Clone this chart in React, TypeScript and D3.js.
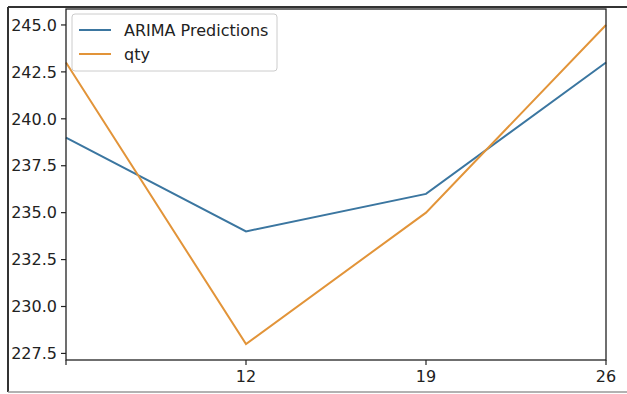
import React from "react";
import * as d3 from "d3";

// Weekly index (day of month) and the two series
const days = [5, 12, 19, 26];
const arimaPredictions = [239, 234, 236, 243];
const qty = [243, 228, 235, 245];
const xTickValues = [5, 12, 19, 26];
const xTickLabels = ["", "12", "19", "26"];
const yTicks = [227.5, 230.0, 232.5, 235.0, 237.5, 240.0, 242.5, 245.0];
const seriesNames = ["ARIMA Predictions", "qty"];

const W = 627;
const H = 394;
const plot = { left: 66, right: 606, top: 9, bottom: 360 };
const font = "'DejaVu Sans', sans-serif";
const colors = ["#3b76a0", "#e29439"];

export default function App() {
  const allVals = [...arimaPredictions, ...qty];
  const lo = d3.min(allVals)!;
  const hi = d3.max(allVals)!;
  const pad = (hi - lo) * 0.05;

  const x = d3.scaleLinear().domain([d3.min(days)!, d3.max(days)!]).range([plot.left, plot.right]);
  const y = d3.scaleLinear().domain([lo - pad, hi + pad]).range([plot.bottom, plot.top]);

  const line = d3
    .line<number>()
    .x((_, i) => x(days[i]))
    .y((d) => y(d));

  const series = [arimaPredictions, qty];

  return (
    <svg
      width={W}
      height={H}
      style={{ position: "absolute", left: 0, top: 0, background: "#fff" }}
      fontFamily={font}
    >
      {/* outer frame */}
      <line x1={8} y1={7} x2={W} y2={7} stroke="#333" strokeWidth={2} />
      <line x1={8} y1={7} x2={8} y2={H - 2} stroke="#333" strokeWidth={2} />
      <line x1={8} y1={H - 2} x2={W} y2={H - 2} stroke="#999" strokeWidth={1.5} />

      {/* series */}
      {series.map((s, i) => (
        <path key={i} d={line(s) || ""} fill="none" stroke={colors[i]} strokeWidth={2} />
      ))}

      {/* axes box */}
      <rect
        x={plot.left}
        y={plot.top}
        width={plot.right - plot.left}
        height={plot.bottom - plot.top}
        fill="none"
        stroke="#222"
        strokeWidth={1.3}
      />

      {/* y ticks */}
      {yTicks.map((t) => (
        <g key={t}>
          <line x1={plot.left - 5} x2={plot.left} y1={y(t)} y2={y(t)} stroke="#222" strokeWidth={1.2} />
          <text
            x={plot.left - 9}
            y={y(t)}
            dy="0.36em"
            textAnchor="end"
            fontSize={16}
            fill="#222"
          >
            {t.toFixed(1)}
          </text>
        </g>
      ))}

      {/* x ticks */}
      {xTickValues.map((t, i) => (
        <g key={t}>
          <line x1={x(t)} x2={x(t)} y1={plot.bottom} y2={plot.bottom + 5} stroke="#222" strokeWidth={1.2} />
          <text x={x(t)} y={plot.bottom + 22} textAnchor="middle" fontSize={16} fill="#222">
            {xTickLabels[i]}
          </text>
        </g>
      ))}

      {/* legend */}
      <rect x={72} y={14} width={205} height={57} rx={3} fill="#fff" fillOpacity={0.8} stroke="#ccc" />
      {seriesNames.map((n, i) => (
        <g key={n}>
          <line x1={79} x2={111} y1={30 + i * 24} y2={30 + i * 24} stroke={colors[i]} strokeWidth={2} />
          <text x={124} y={30 + i * 24} dy="0.36em" fontSize={16} fill="#222">
            {n}
          </text>
        </g>
      ))}
    </svg>
  );
}
